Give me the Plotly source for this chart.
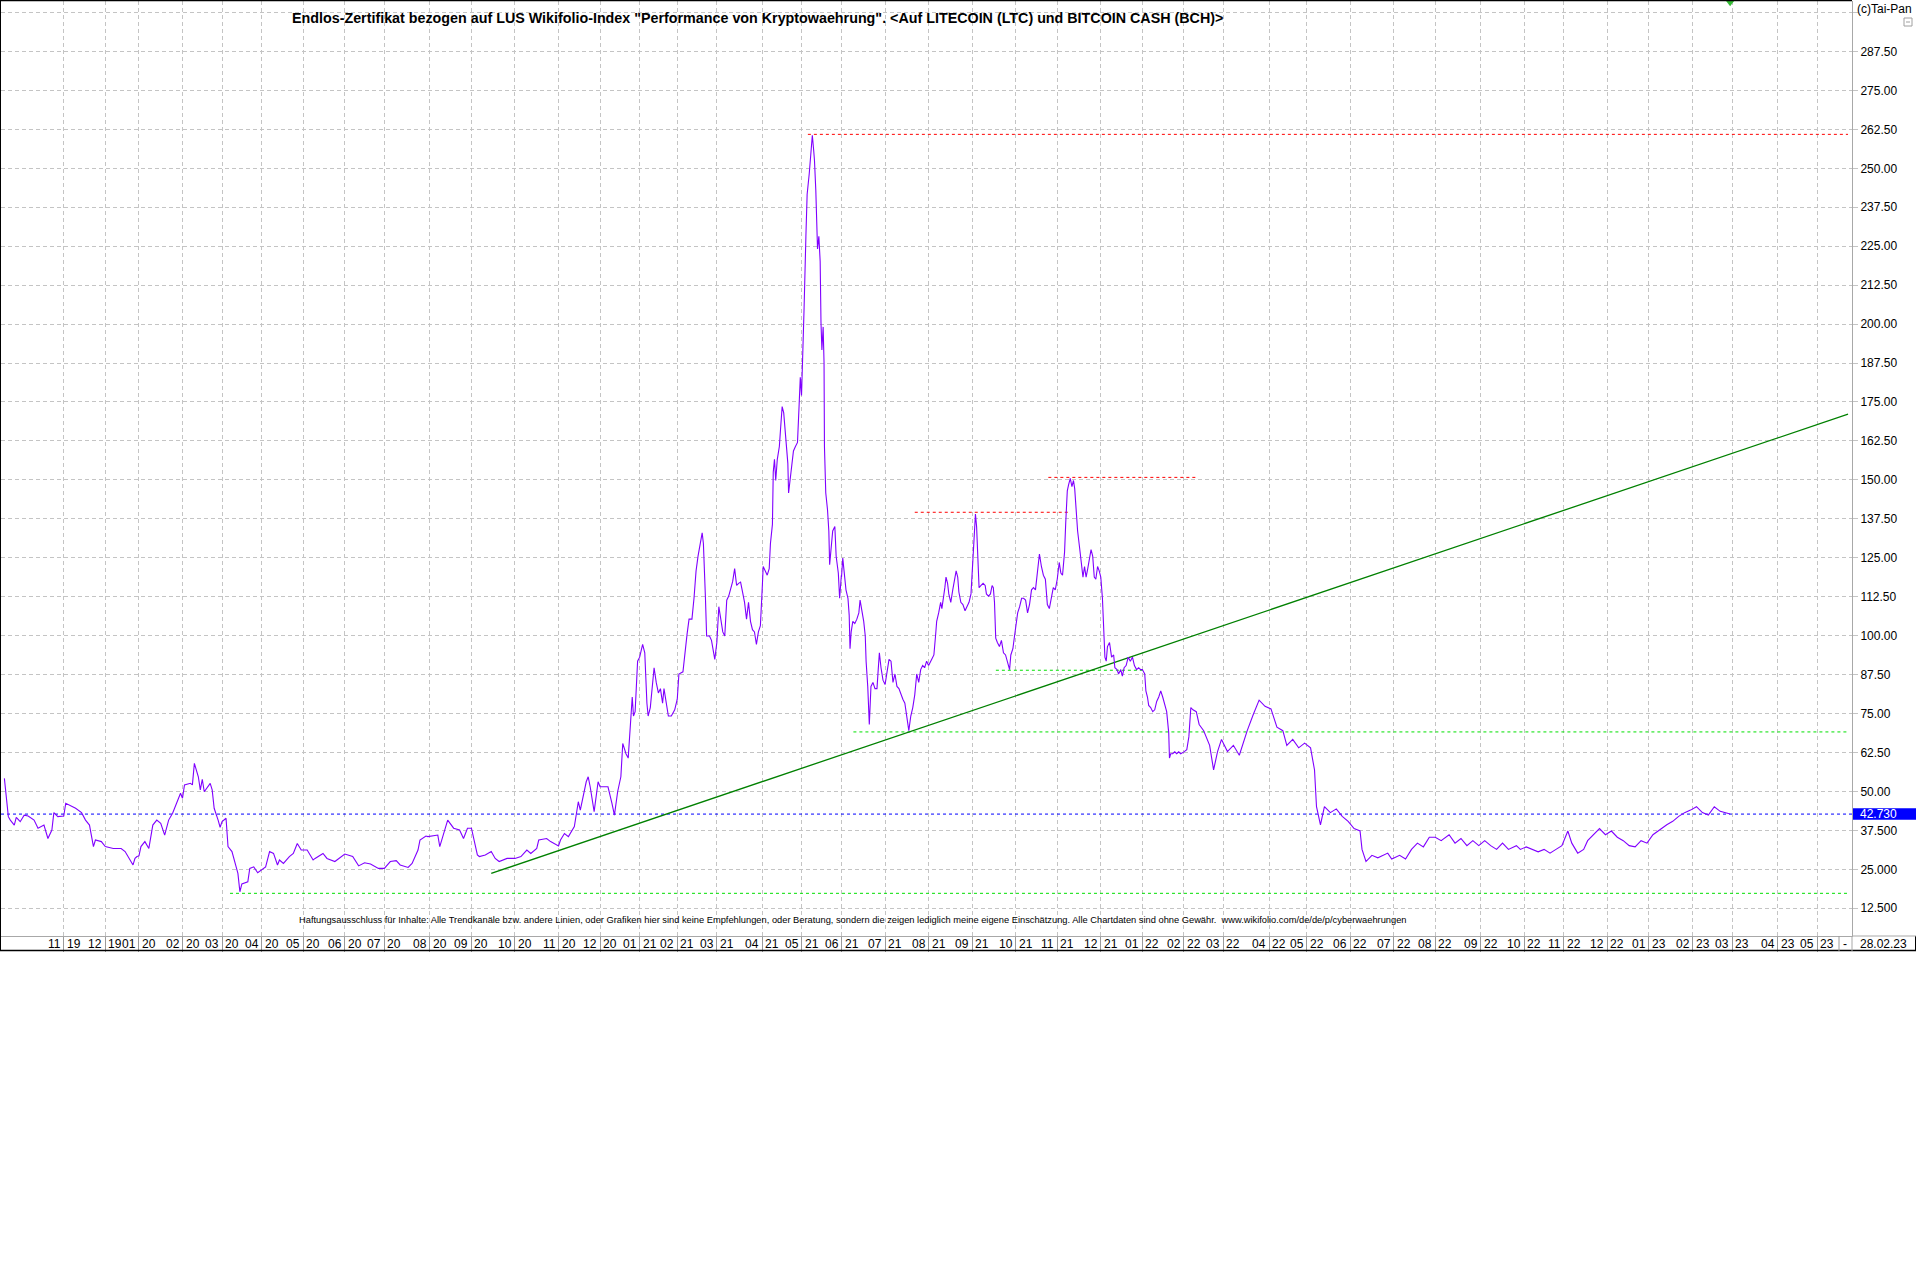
import plotly.graph_objects as go

# ---------------- data (trading days, LUS certificate) ----------------
dates = [
 # 2019-09 (6)
 "2019-09-20","2019-09-23","2019-09-24","2019-09-25","2019-09-27","2019-09-30",
 # 2019-10 (10)
 "2019-10-02","2019-10-04","2019-10-08","2019-10-11","2019-10-15","2019-10-18","2019-10-22","2019-10-24","2019-10-25","2019-10-29",
 # 2019-11 (10)
 "2019-11-01","2019-11-04","2019-11-07","2019-11-11","2019-11-14","2019-11-18","2019-11-20","2019-11-22","2019-11-25","2019-11-28",
 # 2019-12 (7)
 "2019-12-02","2019-12-06","2019-12-12","2019-12-16","2019-12-20","2019-12-23","2019-12-27",
 # 2020-01 (12)
 "2020-01-02","2020-01-03","2020-01-07","2020-01-09","2020-01-13","2020-01-15","2020-01-17","2020-01-21","2020-01-23","2020-01-27","2020-01-29","2020-01-31",
 # 2020-02 (14)
 "2020-02-03","2020-02-04","2020-02-07","2020-02-10","2020-02-11","2020-02-13","2020-02-14","2020-02-17","2020-02-18","2020-02-21","2020-02-24","2020-02-25","2020-02-27","2020-02-28",
 # 2020-03 (11)
 "2020-03-02","2020-03-05","2020-03-06","2020-03-10","2020-03-13","2020-03-16","2020-03-17","2020-03-20","2020-03-23","2020-03-26","2020-03-30",
 # 2020-04 (11)
 "2020-04-01","2020-04-03","2020-04-07","2020-04-09","2020-04-14","2020-04-15","2020-04-17","2020-04-22","2020-04-24","2020-04-28","2020-04-30",
 # 2020-05 (7)
 "2020-05-05","2020-05-08","2020-05-11","2020-05-15","2020-05-19","2020-05-25","2020-05-28",
 # 2020-06 (6)
 "2020-06-01","2020-06-08","2020-06-11","2020-06-16","2020-06-19","2020-06-26",
 # 2020-07 (10)
 "2020-07-01","2020-07-06","2020-07-09","2020-07-13","2020-07-17","2020-07-21","2020-07-24","2020-07-27","2020-07-30","2020-07-31",
 # 2020-08 (8)
 "2020-08-07","2020-08-10","2020-08-13","2020-08-14","2020-08-19","2020-08-24","2020-08-26","2020-08-28",
 # 2020-09 (8)
 "2020-09-01","2020-09-04","2020-09-07","2020-09-10","2020-09-15","2020-09-17","2020-09-21","2020-09-25",
 # 2020-10 (8)
 "2020-10-01","2020-10-06","2020-10-09","2020-10-13","2020-10-16","2020-10-19","2020-10-23","2020-10-27",
 # 2020-11 (12)
 "2020-11-02","2020-11-03","2020-11-05","2020-11-09","2020-11-12","2020-11-16","2020-11-17","2020-11-20","2020-11-23","2020-11-24","2020-11-26","2020-11-30",
 # 2020-12 (15)
 "2020-12-01","2020-12-03","2020-12-07","2020-12-09","2020-12-10 06:00","2020-12-11 21:00","2020-12-15 12:00","2020-12-16 11:00",
 "2020-12-18 02:00","2020-12-21 05:00","2020-12-22 05:00","2020-12-23 06:00","2020-12-23 21:00","2020-12-28 17:00","2020-12-29 23:00",
 # 2021-01 (17)
 "2021-01-04","2021-01-05 12:00","2021-01-06 14:00","2021-01-07 16:00","2021-01-08 07:00","2021-01-11 09:00","2021-01-12 06:00","2021-01-13 07:00",
 "2021-01-14 09:00","2021-01-15 11:00","2021-01-18 12:00","2021-01-19 14:00","2021-01-21 07:00","2021-01-22 10:00","2021-01-25 12:00","2021-01-27","2021-01-28 17:00",
 # 2021-02 (20)
 "2021-02-01","2021-02-01 20:00","2021-02-03 21:00","2021-02-04 22:00","2021-02-05 23:00","2021-02-08 23:00","2021-02-10 10:00","2021-02-11 11:00",
 "2021-02-12 12:00","2021-02-15 12:00","2021-02-16 13:00","2021-02-17 14:00","2021-02-18 05:00","2021-02-18 14:00","2021-02-19 05:00","2021-02-19 20:00",
 "2021-02-23 07:00","2021-02-24 07:00","2021-02-25 08:00","2021-02-25 23:00",
 # 2021-03 (23)
 "2021-03-01","2021-03-02","2021-03-03","2021-03-04","2021-03-05","2021-03-08","2021-03-09","2021-03-10","2021-03-11","2021-03-12",
 "2021-03-15","2021-03-16","2021-03-17","2021-03-18","2021-03-19","2021-03-22","2021-03-23","2021-03-24","2021-03-25","2021-03-26",
 "2021-03-29","2021-03-30","2021-03-31",
 # 2021-04 (27)
 "2021-04-01","2021-04-01 10:00","2021-04-06 10:00","2021-04-07 11:00","2021-04-08 11:00","2021-04-09 02:00","2021-04-12 02:00","2021-04-12 12:00",
 "2021-04-13 03:00","2021-04-13 18:00","2021-04-14 13:00","2021-04-15 14:00","2021-04-16 04:00","2021-04-19","2021-04-19 19:00","2021-04-20 14:00",
 "2021-04-21 05:00","2021-04-21 21:00","2021-04-22 06:00","2021-04-23 02:00","2021-04-23 22:00","2021-04-26 17:00","2021-04-27 17:00","2021-04-28 18:00",
 "2021-04-29 14:00","2021-04-30 04:00","2021-04-30 19:00",
 # 2021-05 (30)
 "2021-05-03 10:00","2021-05-04 02:00","2021-05-05","2021-05-05 15:00","2021-05-06 17:00","2021-05-07 14:00","2021-05-10 06:00","2021-05-10 22:00",
 "2021-05-11 08:00","2021-05-12","2021-05-12 11:00","2021-05-12 21:00","2021-05-13 13:00","2021-05-14 05:00","2021-05-14 15:00","2021-05-17 02:00",
 "2021-05-17 17:00","2021-05-18 04:00","2021-05-18 09:00","2021-05-19 01:00","2021-05-19 22:00","2021-05-20 14:00","2021-05-21","2021-05-21 16:00",
 "2021-05-24 13:00","2021-05-25 15:00","2021-05-26 07:00","2021-05-27 09:00","2021-05-28 01:00","2021-05-28 22:00",
 # 2021-06 (27)
 "2021-06-01","2021-06-01 15:00","2021-06-02 10:00","2021-06-03 06:00","2021-06-04 06:00","2021-06-04 21:00","2021-06-07 07:00","2021-06-07 21:00",
 "2021-06-08 17:00","2021-06-09 17:00","2021-06-10 18:00","2021-06-11 18:00","2021-06-14 09:00","2021-06-15 04:00","2021-06-16 05:00","2021-06-17",
 "2021-06-17 10:00","2021-06-18 06:00","2021-06-21 01:00","2021-06-21 21:00","2021-06-22 21:00","2021-06-23 22:00","2021-06-24 22:00","2021-06-25 13:00",
 "2021-06-28 03:00","2021-06-28 23:00","2021-06-29 23:00",
 # 2021-07 (22)
 "2021-07-01","2021-07-02","2021-07-05","2021-07-06","2021-07-07","2021-07-08","2021-07-09","2021-07-12","2021-07-13","2021-07-14",
 "2021-07-15","2021-07-16","2021-07-19","2021-07-20","2021-07-21","2021-07-22","2021-07-23","2021-07-26","2021-07-27","2021-07-28",
 "2021-07-29","2021-07-30",
 # 2021-08 (25)
 "2021-08-02","2021-08-03 14:00","2021-08-04 16:00","2021-08-05 12:00","2021-08-06 02:00","2021-08-09 02:00","2021-08-10 02:00","2021-08-10 17:00",
 "2021-08-11 13:00","2021-08-12 05:00","2021-08-12 19:00","2021-08-13 14:00","2021-08-16 05:00","2021-08-17 05:00","2021-08-18 05:00","2021-08-19 07:00",
 "2021-08-19 22:00","2021-08-20 17:00","2021-08-23 07:00","2021-08-24 07:00","2021-08-25 08:00","2021-08-26 10:00","2021-08-27 10:00","2021-08-30 10:00",
 "2021-08-31 10:00",
 # 2021-09 (26)
 "2021-09-01","2021-09-01 20:00","2021-09-02 16:00","2021-09-03 06:00","2021-09-03 21:00","2021-09-06 12:00","2021-09-07 12:00","2021-09-08 13:00",
 "2021-09-09 14:00","2021-09-10 05:00","2021-09-13 06:00","2021-09-14 06:00","2021-09-15 02:00","2021-09-15 17:00","2021-09-16 07:00","2021-09-16 22:00",
 "2021-09-17 18:00","2021-09-20 19:00","2021-09-21 19:00","2021-09-22 20:00","2021-09-23 21:00","2021-09-24 22:00","2021-09-27 22:00","2021-09-28 13:00",
 "2021-09-29 14:00","2021-09-30 10:00",
 # 2021-10 (21)
 "2021-10-01","2021-10-04","2021-10-05","2021-10-06","2021-10-07","2021-10-08","2021-10-11","2021-10-12","2021-10-13","2021-10-14",
 "2021-10-15","2021-10-18","2021-10-19","2021-10-20","2021-10-21","2021-10-22","2021-10-25","2021-10-26","2021-10-27","2021-10-28",
 "2021-10-29",
 # 2021-11 (27)
 "2021-11-01","2021-11-02","2021-11-02 20:00","2021-11-03 16:00","2021-11-04 17:00","2021-11-05 07:00","2021-11-08 02:00","2021-11-08 18:00",
 "2021-11-09 14:00","2021-11-10 10:00","2021-11-11 05:00","2021-11-11 20:00","2021-11-12 12:00","2021-11-15 07:00","2021-11-16 07:00","2021-11-17 03:00",
 "2021-11-18","2021-11-18 19:00","2021-11-19 14:00","2021-11-22 10:00","2021-11-23 11:00","2021-11-24 02:00","2021-11-24 22:00","2021-11-25 17:00",
 "2021-11-26 12:00","2021-11-29 09:00","2021-11-30 05:00",
 # 2021-12 (23)
 "2021-12-01","2021-12-01 20:00","2021-12-02 11:00","2021-12-03 02:00","2021-12-03 18:00","2021-12-06 09:00","2021-12-07 10:00","2021-12-08 11:00",
 "2021-12-09 12:00","2021-12-10 03:00","2021-12-13 05:00","2021-12-14","2021-12-15 02:00","2021-12-15 22:00","2021-12-16 19:00","2021-12-17 19:00",
 "2021-12-20 21:00","2021-12-21 22:00","2021-12-23","2021-12-27","2021-12-28 02:00","2021-12-29 03:00","2021-12-30 04:00",
 # 2022-01 (22)
 "2022-01-03","2022-01-04 05:00","2022-01-04 19:00","2022-01-05 14:00","2022-01-06 05:00","2022-01-07 05:00","2022-01-10 06:00","2022-01-11 06:00",
 "2022-01-12 06:00","2022-01-13 07:00","2022-01-14 07:00","2022-01-17 07:00","2022-01-18 07:00","2022-01-19 07:00","2022-01-20 08:00","2022-01-20 17:00",
 "2022-01-21 08:00","2022-01-24 08:00","2022-01-25 09:00","2022-01-26 09:00","2022-01-27 09:00","2022-01-28 09:00",
 # 2022-02 (12)
 "2022-02-01","2022-02-02 11:00","2022-02-03 12:00","2022-02-04 12:00","2022-02-07 14:00","2022-02-09 06:00","2022-02-10 17:00","2022-02-15",
 "2022-02-18","2022-02-22","2022-02-24","2022-02-28",
 # 2022-03 (7)
 "2022-03-03","2022-03-08","2022-03-11","2022-03-17","2022-03-22","2022-03-25","2022-03-30",
 # 2022-04 (7)
 "2022-04-04","2022-04-07","2022-04-12","2022-04-14","2022-04-21","2022-04-26","2022-04-29",
 # 2022-05 (9)
 "2022-05-04","2022-05-06","2022-05-09","2022-05-11","2022-05-13","2022-05-18","2022-05-23","2022-05-26","2022-05-31",
 # 2022-06 (8)
 "2022-06-03","2022-06-08","2022-06-09","2022-06-13","2022-06-16","2022-06-21","2022-06-28","2022-06-30",
 # 2022-07 (6)
 "2022-07-06","2022-07-11","2022-07-14","2022-07-19","2022-07-22","2022-07-27",
 # 2022-08 (8)
 "2022-08-01","2022-08-04","2022-08-10","2022-08-15","2022-08-18","2022-08-23","2022-08-26","2022-08-31",
 # 2022-09 (7)
 "2022-09-05","2022-09-08","2022-09-13","2022-09-16","2022-09-21","2022-09-27","2022-09-29",
 # 2022-10 (7)
 "2022-10-05","2022-10-10","2022-10-13","2022-10-18","2022-10-21","2022-10-26","2022-10-31",
 # 2022-11 (8)
 "2022-11-03","2022-11-07","2022-11-10","2022-11-15","2022-11-17","2022-11-22","2022-11-25","2022-11-30",
 # 2022-12 (7)
 "2022-12-05","2022-12-08","2022-12-13","2022-12-16","2022-12-21","2022-12-27","2022-12-30",
 # 2023-01 (7)
 "2023-01-04","2023-01-10","2023-01-13","2023-01-18","2023-01-23","2023-01-26","2023-01-31",
 # 2023-02 (6)
 "2023-02-03","2023-02-08","2023-02-13","2023-02-16","2023-02-21","2023-02-28",
]

values = [
 # 2019-09
 54.2,46.7,41.9,40.8,39.2,41.7,
 # 2019-10
 40.3,42.4,42.1,40.8,38.2,39.2,34.9,37.6,43.2,41.9,
 # 2019-11
 42.1,46.2,45.1,44.6,43.2,40.8,39.2,32.3,34.4,33.9,
 # 2019-12
 32.3,31.7,31.7,30.7,26.4,28.5,29.1,
 # 2020-01
 29.3,32.3,33.9,31.7,39.2,40.8,39.8,36.0,40.8,43.0,46.2,49.4,
 # 2020-02
 47.8,52.1,52.6,52.1,59.0,54.7,50.5,53.9,49.9,52.6,50.5,44.6,40.8,38.5,
 # 2020-03
 40.3,41.4,32.3,30.7,23.7,17.8,20.3,21.0,25.3,25.8,23.9,
 # 2020-04
 24.8,25.8,30.7,30.1,26.4,28.0,26.9,29.1,30.1,33.3,31.2,
 # 2020-05
 31.2,28.0,28.5,30.1,28.5,27.5,29.1,
 # 2020-06
 29.9,29.1,26.1,27.1,26.7,25.3,
 # 2020-07
 25.3,27.5,27.8,26.4,25.6,26.9,31.2,34.4,35.7,35.5,
 # 2020-08
 36.0,32.3,38.2,40.8,38.2,37.6,34.9,38.2,
 # 2020-09
 38.2,29.6,29.1,29.6,30.7,28.5,27.5,28.5,
 # 2020-10
 28.5,29.1,31.2,30.1,31.7,34.4,34.9,33.9,
 # 2020-11
 32.5,34.4,36.5,35.5,38.7,46.7,44.0,53.1,54.7,51.5,43.5,53.1,
 # 2020-12
 51.5,51.5,51.5,46.2,42.4,49.9,54.7,65.4,62.1,60.7,68.8,80.3,74.2,75.6,91.8,
 # 2021-01
 93.1,97.2,94.5,78.3,74.2,76.9,82.3,89.7,85.0,81.6,83.0,78.3,83.0,78.3,74.2,74.2,76.2,
 # 2021-02
 79.6,87.7,88.4,95.8,100.5,105.3,105.3,112.0,120.8,125.5,129.6,133.0,129.6,120.1,112.7,99.9,99.9,98.5,94.5,92.4,
 # 2021-03
 97.8,109.3,105.3,101.2,99.9,111.4,112.7,115.4,117.4,121.5,116.1,116.8,117.2,114.0,110.7,105.3,110.7,104.6,101.9,101.2,
 97.2,101.2,103.2,
 # 2021-04
 116.1,122.2,120.8,119.4,121.5,129.6,135.7,152.5,156.6,149.8,156.6,160.7,166.1,173.5,171.5,166.1,162.0,155.3,145.8,149.8,
 155.3,159.3,160.7,162.0,174.2,182.9,177.1,
 # 2021-05
 187.7,205.2,228.2,241.7,248.4,256.5,260.6,255.9,252.5,243.0,229.5,224.1,228.2,220.1,200.5,191.7,199.1,187.7,160.7,145.8,
 140.4,133.6,122.8,128.2,133.6,135.0,125.5,120.1,112.0,119.4,
 # 2021-06
 118.8,124.9,120.1,114.7,112.0,106.6,95.8,101.2,104.6,103.9,105.3,107.3,111.4,108.7,104.6,99.9,91.8,83.7,71.5,83.7,
 85.0,83.0,83.0,89.1,94.5,89.7,85.7,
 # 2021-07
 84.3,89.1,92.4,91.8,85.0,87.7,83.7,83.0,81.0,79.6,78.3,74.2,69.5,74.2,76.9,81.0,87.7,85.0,89.1,90.4,
 89.7,91.8,
 # 2021-08
 90.4,92.4,93.8,99.9,104.6,107.3,110.7,108.7,112.0,115.4,118.8,116.8,113.4,110.7,114.7,118.8,120.8,118.8,114.0,110.7,
 110.0,108.0,109.3,110.7,113.4,
 # 2021-09
 120.1,130.9,139.0,135.0,125.5,115.4,116.1,116.8,116.1,113.4,112.7,113.4,116.1,115.4,110.7,99.2,97.8,96.5,98.5,94.5,
 93.8,91.1,89.1,93.8,95.8,99.9,
 # 2021-10
 102.6,107.3,109.3,112.0,112.0,111.4,107.3,110.0,114.7,115.4,114.7,120.1,126.2,122.2,119.4,118.1,110.0,108.7,112.7,115.4,
 114.7,
 # 2021-11
 118.1,123.5,120.1,119.4,126.9,136.3,146.5,148.5,150.5,147.8,149.8,147.1,140.4,133.6,128.2,124.2,118.8,122.2,118.8,121.5,
 126.2,127.6,125.5,118.8,118.1,122.2,120.8,
 # 2021-12
 118.8,112.0,98.5,93.1,91.8,96.5,97.8,93.1,93.8,89.7,89.1,87.7,89.1,87.0,89.7,90.4,93.1,91.8,93.1,90.4,
 89.1,89.7,89.1,
 # 2022-01
 89.1,87.7,82.3,80.3,77.6,76.9,75.6,76.2,78.9,80.3,82.3,80.3,78.3,75.6,68.8,60.7,62.1,62.1,62.7,62.1,
 62.7,62.1,
 # 2022-02
 62.7,63.4,67.5,76.9,76.2,75.6,71.5,69.5,64.8,56.9,62.8,66.7,
 # 2022-03
 62.8,64.8,61.6,69.5,74.6,79.3,77.3,
 # 2022-04
 76.5,70.6,69.5,64.8,66.7,64.0,65.5,
 # 2022-05
 64.0,56.9,45.1,39.3,45.1,43.2,44.4,42.0,40.4,
 # 2022-06
 38.1,37.3,31.4,27.5,29.5,28.7,30.2,28.3,
 # 2022-07
 29.5,28.3,31.4,33.4,32.2,35.3,
 # 2022-08
 35.3,34.2,36.1,33.4,34.9,32.6,34.2,32.6,
 # 2022-09
 34.2,32.6,31.4,33.4,31.4,32.6,31.4,
 # 2022-10
 32.2,31.4,30.6,31.4,30.2,31.4,32.6,
 # 2022-11
 37.3,33.4,30.2,31.4,34.2,36.1,38.1,36.1,
 # 2022-12
 37.3,35.3,34.2,32.6,32.2,34.2,33.4,
 # 2023-01
 36.1,38.1,39.3,40.4,42.0,43.2,44.0,
 # 2023-02
 45.1,43.2,42.4,45.1,43.6,42.73,
]
assert len(dates) == len(values)

# horizontal resistance / support levels
level_values = [260.9, 139.6, 150.8, 88.9, 69.1, 17.3]
level_starts = ["2021-05-06", "2021-07-22", "2021-10-25 12:00", "2021-09-17", "2021-06-09", "2020-03-09"]
level_ends   = ["2023-05-22 14:00", "2021-11-09", "2022-02-09", "2022-01-04", "2023-05-22 14:00", "2023-05-22 14:00"]
level_kinds  = ["resistance", "resistance", "resistance", "support", "support", "support"]

# rising trend line
trend_dates = ["2020-09-15", "2023-05-22 14:00"]
trend_values = [23.7, 171.1]

# days without quotes (holidays / gaps) on the trading-day time axis
non_trading_days = [
    "2019-12-24", "2019-12-25", "2019-12-26", "2019-12-30", "2019-12-31", "2020-01-01",
    "2020-03-04", "2020-03-25", "2020-04-10", "2020-06-03", "2020-06-23",
    "2020-12-24", "2020-12-25", "2020-12-31", "2021-01-01", "2021-01-20", "2021-04-02", "2021-04-05",
    "2021-05-31", "2021-12-24", "2021-12-31", "2022-04-15", "2022-04-18", "2022-10-03", "2022-12-26"]

# axis ticks
y_tick_vals = [12.5, 25.0, 37.5, 50.0, 62.5, 75.0, 87.5, 100.0, 112.5, 125.0, 137.5, 150.0,
               162.5, 175.0, 187.5, 200.0, 212.5, 225.0, 237.5, 250.0, 262.5, 275.0, 287.5, 300.0]
y_tick_text = ["12.500", "25.000", "37.500", "50.00", "62.50", "75.00", "87.50", "100.00", "112.50",
               "125.00", "137.50", "150.00", "162.50", "175.00", "187.50", "200.00", "212.50",
               "225.00", "237.50", "250.00", "262.50", "275.00", "287.50", ""]

x_tick_dates = [
 "2019-11-01","2019-12-02","2020-01-02","2020-02-03","2020-03-02","2020-04-01","2020-05-01","2020-06-01",
 "2020-07-01","2020-08-03","2020-09-01","2020-10-01","2020-11-02","2020-12-01","2021-01-04","2021-02-01",
 "2021-03-01","2021-04-01","2021-05-03","2021-06-01","2021-07-01","2021-08-02","2021-09-01","2021-10-01",
 "2021-11-01","2021-12-01","2022-01-03","2022-02-01","2022-03-01","2022-04-01","2022-05-02","2022-06-01",
 "2022-07-01","2022-08-01","2022-09-01","2022-10-04","2022-11-01","2022-12-01","2023-01-02","2023-02-01",
 "2023-03-01","2023-04-03","2023-05-01"]
x_tick_months = [
 "11","12","01","02","03","04","05","06","07","08","09","10","11","12","01","02","03","04","05","06",
 "07","08","09","10","11","12","01","02","03","04","05","06","07","08","09","10","11","12","01","02",
 "03","04","05"]
x_tick_years = [
 "19","19","20","20","20","20","20","20","20","20","20","20","20","20","21","21","21","21","21","21",
 "21","21","21","21","21","21","22","22","22","22","22","22","22","22","22","22","22","22","23","23",
 "23","23","23"]

title_text = ("Endlos-Zertifikat bezogen auf LUS Wikifolio-Index \"Performance von Kryptowaehrung\". "
              "&lt;Auf LITECOIN (LTC) und BITCOIN CASH (BCH)&gt;")
disclaimer = ("Haftungsausschluss für Inhalte: Alle Trendkanäle bzw. andere Linien, oder Grafiken hier sind keine "
              "Empfehlungen, oder Beratung, sondern die zeigen lediglich meine eigene Einschätzung. "
              "Alle Chartdaten sind ohne Gewähr.  www.wikifolio.com/de/de/p/cyberwaehrungen")
last_date_label = "28.02.23"

# ---------------- layout geometry (pixels) ----------------
W, H = 1916, 1286
PL, PR, PT, PB = 1, 1852, 1, 936   # plot area edges
x_range = ["2019-09-18 07:00", "2023-05-24 14:00"]
y_range = [3.6, 303.7]


def px(xp):
    return (xp - PL) / (PR - PL)


def py(yp):
    return (PB - yp) / (PB - PT)


fig = go.Figure()

level_colors = {"resistance": "#ff0000", "support": "#00e000"}

last_val = values[-1]
fig.add_trace(go.Scatter(x=x_range, y=[last_val, last_val], mode="lines",
                         line=dict(color="#0000ff", width=1, dash="3px,3px"), hoverinfo="skip"))

for v, s, e, k in zip(level_values, level_starts, level_ends, level_kinds):
    fig.add_trace(go.Scatter(x=[s, e], y=[v, v], mode="lines",
                             line=dict(color=level_colors[k], width=1, dash="3px,3px"), hoverinfo="skip"))

fig.add_trace(go.Scatter(x=trend_dates, y=trend_values, mode="lines",
                         line=dict(color="#008000", width=1.3), hoverinfo="skip"))

fig.add_trace(go.Scatter(x=dates, y=values, mode="lines",
                         line=dict(color="#8000ff", width=1.1), hoverinfo="skip"))

fig.add_trace(go.Scatter(x=[dates[-1]], y=[y_range[1] - 0.6], mode="markers", cliponaxis=False,
                         marker=dict(symbol="triangle-down", size=7, color="#33bb33"), hoverinfo="skip"))

grid_col = "#c4c4c4"
fig.update_xaxes(type="date", range=x_range,
                 rangebreaks=[dict(bounds=["sat", "mon"]), dict(values=non_trading_days)],
                 tickvals=x_tick_dates, showticklabels=False,
                 showgrid=True, gridcolor=grid_col, gridwidth=1, griddash="4px,3px",
                 ticks="outside", ticklen=15, tickcolor="#9a9a9a", tickwidth=1,
                 showline=True, linecolor="#a8a8a8", linewidth=1, zeroline=False, fixedrange=True)
fig.update_yaxes(range=y_range, side="right", tickvals=y_tick_vals, ticktext=y_tick_text,
                 showgrid=True, gridcolor=grid_col, gridwidth=1, griddash="4px,3px",
                 ticks="outside", ticklen=5, tickcolor=grid_col,
                 showline=True, linecolor="#a8a8a8", linewidth=1, zeroline=False,
                 tickfont=dict(family="Arial, Liberation Sans", size=12, color="#000000"), fixedrange=True)

annotations = []
band_y = py(943.5)
for d, m, yv in zip(x_tick_dates, x_tick_months, x_tick_years):
    annotations.append(dict(x=d, y=band_y, xref="x", yref="paper", text=m, showarrow=False,
                            xanchor="right", yanchor="middle", xshift=-1,
                            font=dict(size=12, color="#000000")))
    annotations.append(dict(x=d, y=band_y, xref="x", yref="paper", text=yv, showarrow=False,
                            xanchor="left", yanchor="middle", xshift=1,
                            font=dict(size=12, color="#000000")))
annotations.append(dict(x=px(1845), y=band_y, xref="paper", yref="paper", text="-", showarrow=False,
                        xanchor="center", yanchor="middle", font=dict(size=12, color="#000000")))
annotations.append(dict(x=px(1858), y=band_y, xref="paper", yref="paper", text=last_date_label,
                        showarrow=False, xanchor="left", yanchor="middle",
                        font=dict(size=12, color="#000000")))
annotations.append(dict(x=px(290), y=py(17.5), xref="paper", yref="paper", text="<b>" + title_text + "</b>",
                        showarrow=False, xanchor="left", yanchor="middle",
                        font=dict(family="Arial, Liberation Sans", size=14.3, color="#000000")))
annotations.append(dict(x=px(1855), y=py(9), xref="paper", yref="paper", text="(c)Tai-Pan",
                        showarrow=False, xanchor="left", yanchor="middle",
                        font=dict(size=12, color="#000000")))
annotations.append(dict(x=px(297), y=py(920), xref="paper", yref="paper", text=disclaimer,
                        showarrow=False, xanchor="left", yanchor="middle",
                        font=dict(family="Arial, Liberation Sans", size=9.3, color="#000000")))
annotations.append(dict(x=px(1858), y=last_val, xref="paper", yref="y", text="%.3f" % last_val,
                        showarrow=False, xanchor="left", yanchor="middle",
                        font=dict(size=12, color="#ffffff")))

shapes = [
    dict(type="rect", xref="paper", yref="y", x0=px(1853), x1=px(1916), y0=last_val - 1.85, y1=last_val + 1.85,
         fillcolor="#0000ff", line=dict(width=0), layer="below"),
    dict(type="line", xref="paper", yref="paper", x0=px(0.5), x1=px(0.5), y0=py(0), y1=py(951),
         line=dict(color="#000000", width=1)),
    dict(type="line", xref="paper", yref="paper", x0=px(0), x1=px(1852), y0=py(0.5), y1=py(0.5),
         line=dict(color="#000000", width=1.5)),
    dict(type="line", xref="paper", yref="paper", x0=px(0), x1=px(1916), y0=py(950.5), y1=py(950.5),
         line=dict(color="#000000", width=1.5)),
    dict(type="line", xref="paper", yref="paper", x0=px(1915.5), x1=px(1915.5), y0=py(936), y1=py(951),
         line=dict(color="#000000", width=1)),
    dict(type="line", xref="paper", yref="paper", x0=px(1852), x1=px(1916), y0=py(936), y1=py(936),
         line=dict(color="#a8a8a8", width=1)),
    dict(type="line", xref="paper", yref="paper", x0=px(1852), x1=px(1852), y0=py(936), y1=py(951),
         line=dict(color="#a8a8a8", width=1)),
    dict(type="line", xref="paper", yref="paper", x0=px(1839), x1=px(1839), y0=py(936), y1=py(951),
         line=dict(color="#9a9a9a", width=1)),
    dict(type="rect", xref="paper", yref="paper", x0=px(1904), x1=px(1912), y0=py(18), y1=py(26),
         line=dict(color="#a0a0a0", width=1), fillcolor="white"),
    dict(type="line", xref="paper", yref="paper", x0=px(1906), x1=px(1910), y0=py(22), y1=py(22),
         line=dict(color="#a0a0a0", width=1)),
]

fig.update_layout(width=W, height=H, margin=dict(l=PL, r=W - PR, t=PT, b=H - PB, pad=0),
                  paper_bgcolor="white", plot_bgcolor="white", showlegend=False,
                  font=dict(family="Arial, Liberation Sans", size=12, color="#000000"),
                  annotations=annotations, shapes=shapes, hovermode=False)

fig.write_html("out.html", config={"displayModeBar": False, "staticPlot": True},
               post_script="document.body.style.margin='0';")
